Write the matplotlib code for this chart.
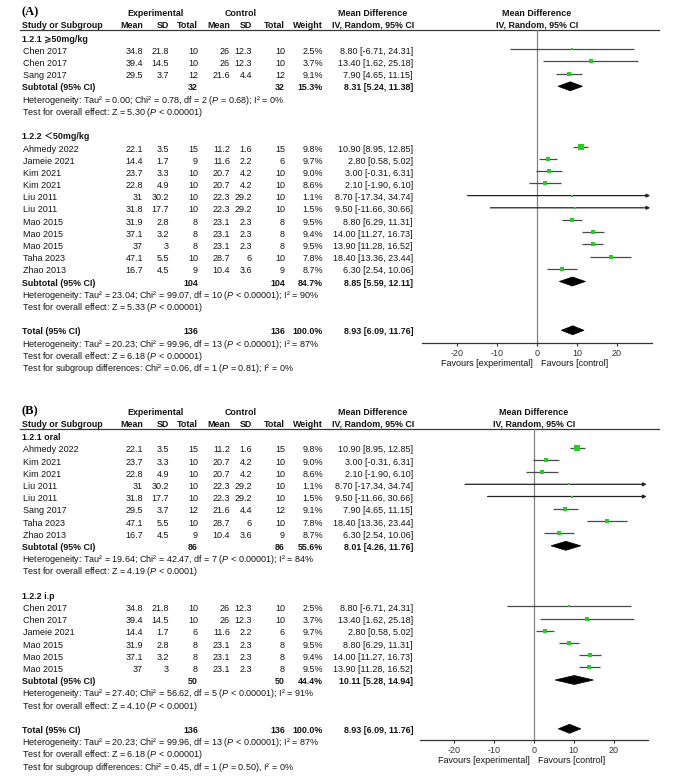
import matplotlib
matplotlib.use('Agg')
import matplotlib.pyplot as plt
from matplotlib.patches import Polygon
import numpy as np

W, H = 692, 777
plt.rcParams['font.family'] = ['Liberation Sans', 'DejaVu Sans', 'Noto Sans CJK SC']
plt.rcParams['mathtext.fontset'] = 'custom'
plt.rcParams['mathtext.rm'] = 'Liberation Sans'
plt.rcParams['mathtext.it'] = 'Liberation Sans:italic'
plt.rcParams['mathtext.bf'] = 'Liberation Sans:bold'
plt.rcParams['axes.unicode_minus'] = False

# ---------------- data ----------------
study_names = ["Ahmedy 2022", "Jameie 2021", "Kim 2021", "Kim 2021", "Liu 2011", "Liu 2011",
               "Mao 2015", "Mao 2015", "Mao 2015", "Taha 2023", "Zhao 2013",
               "Chen 2017", "Chen 2017", "Sang 2017"]
exp_mean = [22.1, 14.4, 23.7, 22.8, 31, 31.8, 31.9, 37.1, 37, 47.1, 16.7, 34.8, 39.4, 29.5]
exp_sd = [3.5, 1.7, 3.3, 4.9, 30.2, 17.7, 2.8, 3.2, 3, 5.5, 4.5, 21.8, 14.5, 3.7]
exp_n_A = [15, 9, 10, 10, 10, 10, 8, 8, 8, 10, 9, 10, 10, 12]
exp_n_B = [15, 6, 10, 10, 10, 10, 8, 8, 8, 10, 9, 10, 10, 12]
ctl_mean = [11.2, 11.6, 20.7, 20.7, 22.3, 22.3, 23.1, 23.1, 23.1, 28.7, 10.4, 26, 26, 21.6]
ctl_sd = [1.6, 2.2, 4.2, 4.2, 29.2, 29.2, 2.3, 2.3, 2.3, 6, 3.6, 12.3, 12.3, 4.4]
ctl_n = [15, 6, 10, 10, 10, 10, 8, 8, 8, 10, 9, 10, 10, 12]
weight = [9.8, 9.7, 9.0, 8.6, 1.1, 1.5, 9.5, 9.4, 9.5, 7.8, 8.7, 2.5, 3.7, 9.1]
md = [10.90, 2.80, 3.00, 2.10, 8.70, 9.50, 8.80, 14.00, 13.90, 18.40, 6.30, 8.80, 13.40, 7.90]
ci_lo = [8.95, 0.58, -0.31, -1.90, -17.34, -11.66, 6.29, 11.27, 11.28, 13.36, 2.54, -6.71, 1.62, 4.65]
ci_hi = [12.85, 5.02, 6.31, 6.10, 34.74, 30.66, 11.31, 16.73, 16.52, 23.44, 10.06, 24.31, 25.18, 11.15]

# Panel A subgroups
A_titles = ["1.2.1 \u2A7E50mg/kg", "1.2.2 \uFF1C50mg/kg"]
A_members = [[11, 12, 13], [0, 1, 2, 3, 4, 5, 6, 7, 8, 9, 10]]
A_sub_n = [32, 104]
A_sub_weight = [15.3, 84.7]
A_sub_md = [8.31, 8.85]
A_sub_lo = [5.24, 5.59]
A_sub_hi = [11.38, 12.11]
A_het = ["Tau\u00b2 = 0.00; Chi\u00b2 = 0.78, df = 2 (P = 0.68); I\u00b2 = 0%",
         "Tau\u00b2 = 23.04; Chi\u00b2 = 99.07, df = 10 (P < 0.00001); I\u00b2 = 90%"]
A_z = ["Z = 5.30 (P < 0.00001)", "Z = 5.33 (P < 0.00001)"]
A_subgroup_diff = "Chi\u00b2 = 0.06, df = 1 (P = 0.81); I\u00b2 = 0%"

# Panel B subgroups
B_titles = ["1.2.1 oral", "1.2.2 i.p"]
B_members = [[0, 2, 3, 4, 5, 13, 9, 10], [11, 12, 1, 6, 7, 8]]
B_sub_n = [86, 50]
B_sub_weight = [55.6, 44.4]
B_sub_md = [8.01, 10.11]
B_sub_lo = [4.26, 5.28]
B_sub_hi = [11.76, 14.94]
B_het = ["Tau\u00b2 = 19.64; Chi\u00b2 = 42.47, df = 7 (P < 0.00001); I\u00b2 = 84%",
         "Tau\u00b2 = 27.40; Chi\u00b2 = 56.62, df = 5 (P < 0.00001); I\u00b2 = 91%"]
B_z = ["Z = 4.19 (P < 0.0001)", "Z = 4.10 (P < 0.0001)"]
B_subgroup_diff = "Chi\u00b2 = 0.45, df = 1 (P = 0.50), I\u00b2 = 0%"

# Overall
total_n = 136
total_weight = 100.0
total_md = 8.93
total_lo = 6.09
total_hi = 11.76
total_het = "Tau\u00b2 = 20.23; Chi\u00b2 = 99.96, df = 13 (P < 0.00001); I\u00b2 = 87%"
total_z = "Z = 6.18 (P < 0.00001)"

x_ticks = [-20, -10, 0, 10, 20]
x_lim = (-28.75, 28.75)

# ---------------- style ----------------
FS = 6.5
FSB = 6.4
TXT = '#141414'
GREEN = '#1ed21e'
CI_COL = '#4a4a4a'

fig = plt.figure(figsize=(W / 100, H / 100), dpi=100)
tax = fig.add_axes([0, 0, 1, 1])
tax.set_xlim(0, W)
tax.set_ylim(H, 0)
tax.axis('off')

COL = dict(name=23, em=143, esd=169, en=198, cm=230, csd=252, cn=285, w=323, ci=413, cic=373)


def fmt(v):
    return f"{v:g}"


def italP(s):
    return s.replace("(P ", r"($\mathit{P}$ ")


def t(x, y, s, ha='left', bold=False, **kw):
    tax.text(x, y + 3.2, s, ha=ha, va='baseline', fontsize=FSB if bold else FS,
             fontweight='bold' if bold else 'normal', color=TXT, **kw)


def draw_panel(label, y_line, y0, dy, axis_y, x_zero, ppu, titles, members, exp_n,
               sub_n, sub_w, sub_md, sub_lo, sub_hi, het, zs, subdiff):
    # panel label and headers
    tax.text(22, y_line - 17, label, ha='left', va='center', fontsize=9,
             fontweight='bold', family='Liberation Serif', color='black')
    yh1 = y_line - 16.5
    yh2 = y_line - 5
    t(155, yh1, "Experimental", ha='center', bold=True)
    t(241, yh1, "Control", ha='center', bold=True)
    t(COL['cic'], yh1, "Mean Difference", ha='center', bold=True)
    t(x_zero, yh1, "Mean Difference", ha='center', bold=True)
    t(22, yh2, "Study or Subgroup", bold=True)
    t(COL['em'], yh2, "Mean", ha='right', bold=True)
    t(COL['esd'], yh2, "SD", ha='right', bold=True)
    t(COL['en'], yh2, "Total", ha='right', bold=True)
    t(COL['cm'], yh2, "Mean", ha='right', bold=True)
    t(COL['csd'], yh2, "SD", ha='right', bold=True)
    t(COL['cn'], yh2, "Total", ha='right', bold=True)
    t(COL['w'], yh2, "Weight", ha='right', bold=True)
    t(COL['cic'], yh2, "IV, Random, 95% CI", ha='center', bold=True)
    t(x_zero, yh2, "IV, Random, 95% CI", ha='center', bold=True)
    tax.plot([20, 659], [y_line, y_line], color='#3a3a3a', lw=0.9)

    # forest axes
    left = x_zero + x_lim[0] * ppu
    width = (x_lim[1] - x_lim[0]) * ppu
    fax = fig.add_axes([left / W, 1 - axis_y / H, width / W, (axis_y - y_line) / H])
    fax.patch.set_visible(False)
    fax.set_xlim(*x_lim)
    fax.set_ylim(axis_y, y_line)
    for sp in ['top', 'left', 'right']:
        fax.spines[sp].set_visible(False)
    fax.spines['bottom'].set_color('#333333')
    fax.spines['bottom'].set_linewidth(0.9)
    fax.set_yticks([])
    fax.set_xticks(x_ticks)
    fax.tick_params(axis='x', direction='out', length=2.5, width=0.8, colors='#333333',
                    labelsize=FS, pad=1.6)
    fax.axvline(0, color='#808080', lw=0.9, zorder=1)
    fax.annotate("Favours [experimental]", xy=(-1, 0), xycoords=('data', 'axes fraction'),
                 xytext=(0, -16.5), textcoords='offset points', ha='right', va='baseline',
                 fontsize=FS, color=TXT)
    fax.annotate("Favours [control]", xy=(1, 0), xycoords=('data', 'axes fraction'),
                 xytext=(0, -16.5), textcoords='offset points', ha='left', va='baseline',
                 fontsize=FS, color=TXT)

    def diamond(y, m, lo, hi, hh=4.5):
        fax.add_patch(Polygon([(lo, y), (m, y - hh), (hi, y), (m, y + hh)], closed=True,
                              facecolor='black', edgecolor='black', lw=0.5, zorder=4))

    row = 0
    for g in range(len(titles)):
        y = y0 + row * dy
        t(22, y, titles[g], bold=True)
        row += 1
        for i in members[g]:
            y = y0 + row * dy
            t(COL['name'], y, study_names[i])
            t(COL['em'], y, fmt(exp_mean[i]), ha='right')
            t(COL['esd'], y, fmt(exp_sd[i]), ha='right')
            t(COL['en'], y, fmt(exp_n[i]), ha='right')
            t(COL['cm'], y, fmt(ctl_mean[i]), ha='right')
            t(COL['csd'], y, fmt(ctl_sd[i]), ha='right')
            t(COL['cn'], y, fmt(ctl_n[i]), ha='right')
            t(COL['w'], y, f"{weight[i]:.1f}%", ha='right')
            t(COL['ci'], y, f"{md[i]:.2f} [{ci_lo[i]:.2f}, {ci_hi[i]:.2f}]", ha='right')
            ym = y - 1.5
            if ci_hi[i] > x_lim[1]:
                fax.annotate('', xy=(x_lim[1] - 0.45, ym), xytext=(ci_lo[i], ym),
                             arrowprops=dict(arrowstyle='-|>', mutation_scale=5, lw=0.9,
                                             color='#222222', shrinkA=0, shrinkB=0),
                             annotation_clip=False)
            else:
                fax.plot([ci_lo[i], ci_hi[i]], [ym, ym], color=CI_COL, lw=0.9, zorder=2,
                         solid_capstyle='butt')
            side_pt = 1.6 * np.sqrt(weight[i]) * 0.72
            fax.scatter([md[i]], [ym], marker='s', s=side_pt ** 2, color=GREEN,
                        linewidths=0, zorder=3)
            row += 1
        y = y0 + row * dy
        t(22, y, "Subtotal (95% CI)", bold=True)
        t(COL['en'], y, fmt(sub_n[g]), ha='right', bold=True)
        t(COL['cn'], y, fmt(sub_n[g]), ha='right', bold=True)
        t(COL['w'], y, f"{sub_w[g]:.1f}%", ha='right', bold=True)
        t(COL['ci'], y, f"{sub_md[g]:.2f} [{sub_lo[g]:.2f}, {sub_hi[g]:.2f}]", ha='right', bold=True)
        diamond(y - 1, sub_md[g], sub_lo[g], sub_hi[g])
        row += 1
        t(22, y0 + row * dy, "Heterogeneity: " + italP(het[g]))
        row += 1
        t(22, y0 + row * dy, "Test for overall effect: " + italP(zs[g]))
        row += 2

    y = y0 + row * dy
    t(22, y, "Total (95% CI)", bold=True)
    t(COL['en'], y, fmt(total_n), ha='right', bold=True)
    t(COL['cn'], y, fmt(total_n), ha='right', bold=True)
    t(COL['w'], y, f"{total_weight:.1f}%", ha='right', bold=True)
    t(COL['ci'], y, f"{total_md:.2f} [{total_lo:.2f}, {total_hi:.2f}]", ha='right', bold=True)
    diamond(y - 1, total_md, total_lo, total_hi)
    row += 1
    t(22, y0 + row * dy, "Heterogeneity: " + italP(total_het))
    row += 1
    t(22, y0 + row * dy, "Test for overall effect: " + italP(total_z))
    row += 1
    t(22, y0 + row * dy, "Test for subgroup differences: " + italP(subdiff))


draw_panel("(A)", 29.5, 38.5, 12.2, 343, 537, 4.0, A_titles, A_members, exp_n_A,
           A_sub_n, A_sub_weight, A_sub_md, A_sub_lo, A_sub_hi, A_het, A_z, A_subgroup_diff)
draw_panel("(B)", 428.5, 437, 12.2, 740, 534, 3.98, B_titles, B_members, exp_n_B,
           B_sub_n, B_sub_weight, B_sub_md, B_sub_lo, B_sub_hi, B_het, B_z, B_subgroup_diff)

fig.savefig("out.png", dpi=100)
